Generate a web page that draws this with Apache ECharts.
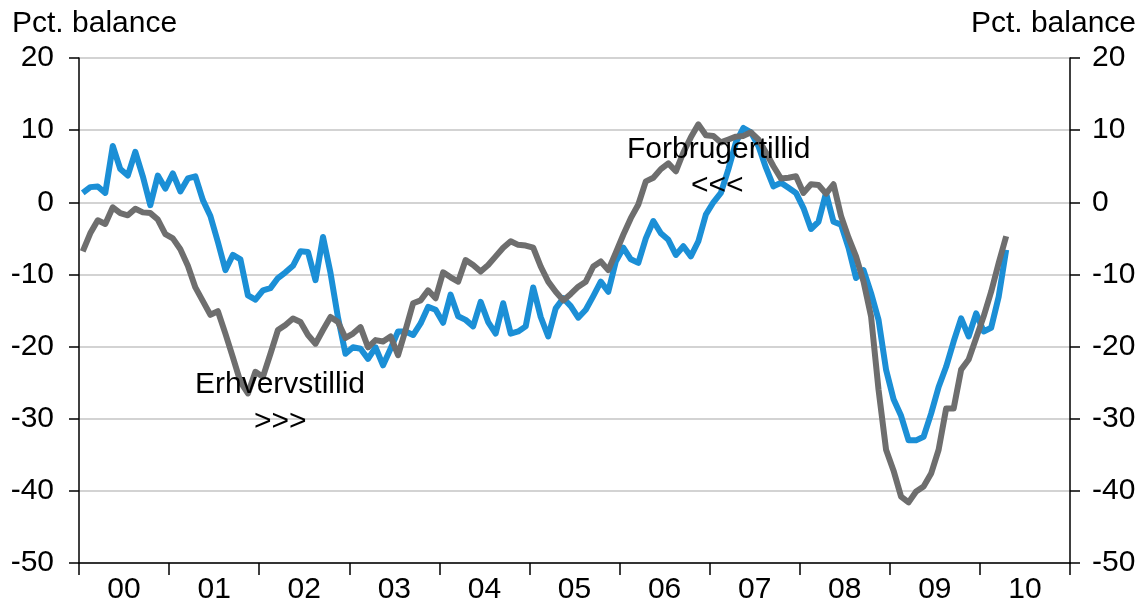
<!DOCTYPE html>
<html>
<head>
    <meta charset="utf-8">
    <title>Forbrugertillid og erhvervstillid</title>
    <script src="https://cdn.jsdelivr.net/npm/echarts@6/dist/echarts.min.js"></script>
    <style>
        html, body {margin: 0; padding: 0; background: #fff;}
        #chart {width: 1143px; height: 608px;}
    </style>
</head>
<body>
<div id="chart"></div>

<script type="text/javascript">
    // år på x-aksen
    var years = ['00', '01', '02', '03', '04', '05', '06', '07', '08', '09', '10'];

    // Forbrugertillid, månedlig fra jan 2000
    var forbruger = [
        1.3, 2.1, 2.2, 1.3, 7.8, 4.6, 3.7, 7.0, 3.6, -0.4, 3.7, 1.9,
        4.0, 1.5, 3.3, 3.6, 0.3, -1.9, -5.5, -9.4, -7.3, -7.9, -12.9, -13.5,
        -12.2, -11.9, -10.5, -9.7, -8.8, -6.8, -6.9, -10.8, -4.8, -9.8, -16.0, -21.0,
        -20.1, -20.3, -21.7, -20.1, -22.6, -20.3, -17.9, -17.9, -18.4, -16.8, -14.5, -14.9,
        -16.7, -12.8, -15.8, -16.3, -17.2, -13.8, -16.6, -18.2, -14.0, -18.2, -17.9, -17.2,
        -11.8, -15.9, -18.6, -14.7, -13.3, -14.4, -16.0, -14.9, -13.0, -11.0, -12.4, -8.2,
        -6.3, -7.9, -8.4, -5.0, -2.6, -4.3, -5.2, -7.3, -6.1, -7.5, -5.4, -1.7,
        0.0, 1.3, 4.6, 8.3, 10.3, 9.7, 7.8, 4.8, 2.2, 2.7, 2.0, 1.3,
        -0.8, -3.7, -2.7, 1.3, -2.7, -3.1, -6.3, -10.5, -9.4, -12.6, -16.3, -23.2,
        -27.3, -29.6, -33.0, -33.0, -32.5, -29.3, -25.6, -22.8, -19.3, -16.1, -18.6, -15.4,
        -17.9, -17.4, -13.1, -6.6
    ];

    // Erhvervstillid, månedlig fra jan 2000
    var erhverv = [
        -6.8, -4.3, -2.5, -3.0, -0.7, -1.5, -1.8, -0.9, -1.4, -1.5, -2.4, -4.4,
        -5.0, -6.5, -8.8, -11.8, -13.7, -15.6, -15.1, -18.2, -21.5, -24.9, -26.5, -23.5,
        -24.2, -21.0, -17.7, -17.0, -16.1, -16.6, -18.4, -19.6, -17.7, -15.9, -16.6, -18.8,
        -18.2, -17.3, -20.1, -19.1, -19.3, -18.6, -21.2, -17.7, -14.0, -13.6, -12.2, -13.3,
        -9.7, -10.4, -11.0, -8.0, -8.7, -9.6, -8.7, -7.5, -6.3, -5.4, -5.9, -6.0,
        -6.3, -8.9, -11.0, -12.4, -13.6, -12.7, -11.7, -11.0, -8.9, -8.2, -9.4, -7.0,
        -4.5, -2.2, -0.3, 2.9, 3.4, 4.6, 5.4, 4.3, 6.9, 9.0, 10.8, 9.3,
        9.2, 8.3, 8.7, 9.1, 9.2, 9.7, 8.7, 6.9, 5.0, 3.3, 3.4, 3.6,
        1.3, 2.5, 2.4, 1.2, 2.5, -1.9, -4.9, -7.5, -11.0, -15.8, -26.0, -34.3,
        -37.2, -40.8, -41.6, -40.1, -39.4, -37.6, -34.3, -28.6, -28.6, -23.2, -21.8, -18.8,
        -15.8, -12.4, -8.4, -4.7
    ];

    // måneder som kategorier (12 pr. år)
    var months = [];
    for (var y = 0; y < years.length; y++) {
        for (var m = 1; m <= 12; m++) {
            months.push(years[y] + '-' + (m < 10 ? '0' + m : m));
        }
    }

    var font = 'Liberation Sans, Arial, sans-serif';
    var fs = 30;

    var myChart = echarts.init(document.getElementById('chart'));

    var option = {
        animation: false,
        backgroundColor: '#fff',
        textStyle: {fontFamily: font},
        grid: {left: 79, right: 73, top: 58, bottom: 45},
        graphic: [
            {type: 'text', z: 100, left: 12, top: 9, style: {text: 'Pct. balance', font: fs + 'px ' + font, fill: '#000'}},
            {type: 'text', z: 100, right: 7, top: 9, style: {text: 'Pct. balance', font: fs + 'px ' + font, fill: '#000'}},
            {type: 'text', z: 100, left: 627, top: 135, style: {text: 'Forbrugertillid', font: fs + 'px ' + font, fill: '#000'}},
            {type: 'text', z: 100, left: 691, top: 171, style: {text: '<<<', font: fs + 'px ' + font, fill: '#000'}},
            {type: 'text', z: 100, left: 195, top: 370, style: {text: 'Erhvervstillid', font: fs + 'px ' + font, fill: '#000'}},
            {type: 'text', z: 100, left: 254, top: 407, style: {text: '>>>', font: fs + 'px ' + font, fill: '#000'}}
        ],
        xAxis: [
            {
                type: 'category',
                data: years,
                boundaryGap: true,
                axisLine: {onZero: false, lineStyle: {color: '#000', width: 1.5}},
                axisTick: {show: true, inside: false, length: 12, lineStyle: {color: '#000', width: 1.5}},
                axisLabel: {color: '#000', fontSize: fs, margin: 12, fontFamily: font},
                splitLine: {show: false}
            },
            {
                type: 'category',
                data: months,
                boundaryGap: true,
                show: false
            }
        ],
        yAxis: [
            {
                type: 'value',
                min: -50, max: 20, interval: 10,
                axisLine: {show: true, lineStyle: {color: '#000', width: 1.5}},
                axisTick: {show: true, inside: false, length: 10, lineStyle: {color: '#000', width: 1.5}},
                axisLabel: {color: '#000', fontSize: fs, margin: 25, fontFamily: font},
                splitLine: {show: true, lineStyle: {color: '#c4c4c4', width: 1.5}}
            },
            {
                type: 'value',
                min: -50, max: 20, interval: 10,
                position: 'right',
                axisLine: {show: true, lineStyle: {color: '#000', width: 1.5}},
                axisTick: {show: true, inside: false, length: 10, lineStyle: {color: '#000', width: 1.5}},
                axisLabel: {color: '#000', fontSize: fs, margin: 22, fontFamily: font},
                splitLine: {show: false}
            }
        ],
        series: [
            {
                name: 'Forbrugertillid',
                type: 'line',
                xAxisIndex: 1,
                yAxisIndex: 0,
                data: forbruger,
                showSymbol: false,
                lineStyle: {color: '#1b8fd6', width: 6, join: 'round'},
                itemStyle: {color: '#1b8fd6'}
            },
            {
                name: 'Erhvervstillid',
                type: 'line',
                xAxisIndex: 1,
                yAxisIndex: 0,
                data: erhverv,
                showSymbol: false,
                lineStyle: {color: '#6e6e6e', width: 6, join: 'round'},
                itemStyle: {color: '#6e6e6e'}
            }
        ]
    };

    myChart.setOption(option);
</script>
</body>
</html>
